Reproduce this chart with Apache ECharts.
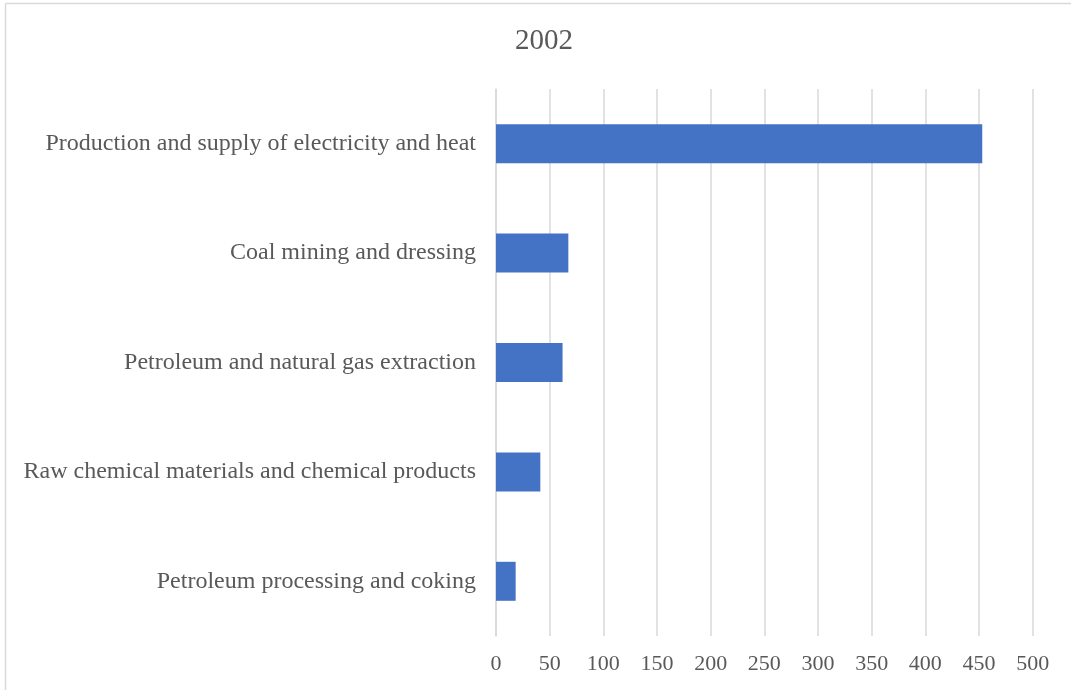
<!DOCTYPE html>
<html>
<head>
<meta charset="utf-8">
<script src="https://cdn.jsdelivr.net/npm/echarts@6/dist/echarts.min.js"></script>
<style>html,body{margin:0;padding:0;background:#fff;}#c{width:1071px;height:690px;}</style>
</head>
<body>
<div id="c"></div>
<script>
const categories = [
  "Petroleum processing and coking",
  "Raw chemical materials and chemical products",
  "Petroleum and natural gas extraction",
  "Coal mining and dressing",
  "Production and supply of electricity and heat"
];
const values = [18.3, 41.3, 62, 67.4, 453];
const xTicks = { min: 0, max: 500, interval: 50 };
const titleText = "2002";

const chart = echarts.init(document.getElementById('c'));
const font = "'Liberation Serif', 'Times New Roman', serif";
chart.setOption({
  animation: false,
  backgroundColor: '#fff',
  title: {
    text: titleText, left: 539, top: 22, textAlign: 'center',
    textStyle: { fontFamily: font, fontSize: 29, fontWeight: 'normal', color: '#595959' }
  },
  graphic: [
    { type: 'line', shape: { x1: 5.5, y1: 3.5, x2: 1071, y2: 3.5 }, style: { stroke: '#d9d9d9', lineWidth: 1.5 } },
    { type: 'line', shape: { x1: 5.5, y1: 3.5, x2: 5.5, y2: 690 }, style: { stroke: '#d9d9d9', lineWidth: 1.5 } }
  ],
  grid: { left: 496, right: 38.3, top: 89, bottom: 54, containLabel: false },
  xAxis: {
    type: 'value', min: xTicks.min, max: xTicks.max, interval: xTicks.interval,
    axisLine: { show: false }, axisTick: { show: false },
    splitLine: { show: true, lineStyle: { color: '#d9d9d9', width: 1.5 } },
    axisLabel: { fontFamily: font, fontSize: 22, color: '#595959', margin: 17 }
  },
  yAxis: {
    type: 'category', data: categories,
    axisLine: { show: true, lineStyle: { color: '#d9d9d9', width: 1.5 } },
    axisTick: { show: false },
    axisLabel: { fontFamily: font, fontSize: 24, color: '#595959', margin: 20 }
  },
  series: [{
    type: 'bar', data: values, barWidth: 39,
    itemStyle: { color: '#4472c4' }
  }]
});
</script>
</body>
</html>
